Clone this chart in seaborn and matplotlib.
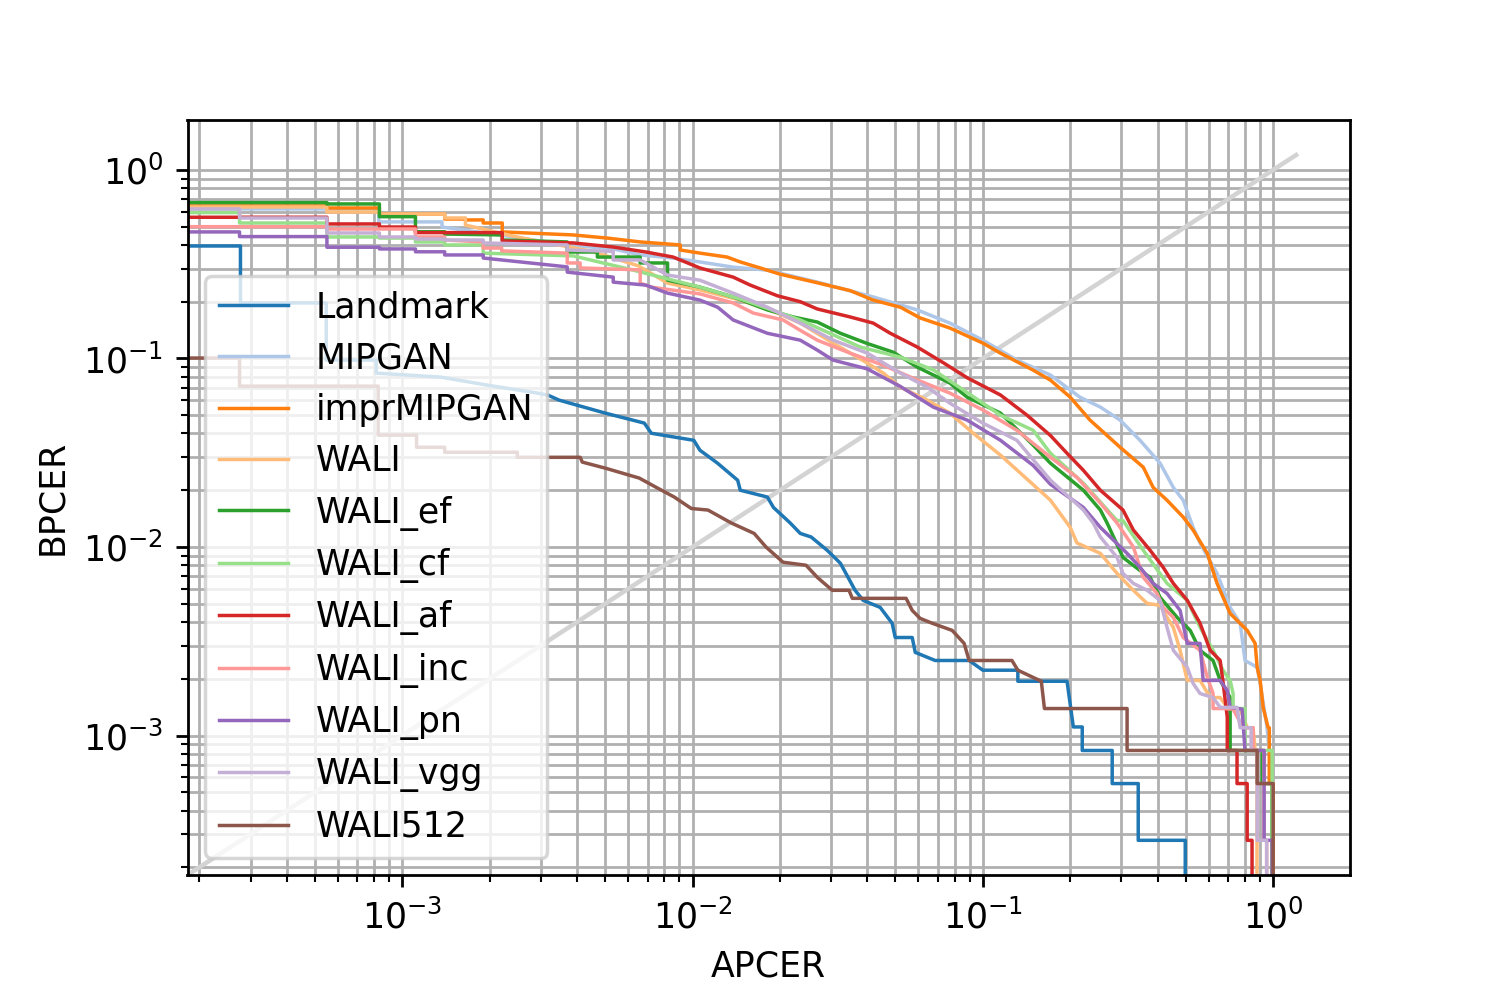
import matplotlib
matplotlib.use("Agg")
import matplotlib.pyplot as plt
import seaborn as sns

# ---- data: (APCER, BPCER) vertices ----
names = ["Landmark", "MIPGAN", "imprMIPGAN", "WALI", "WALI_ef", "WALI_cf",
         "WALI_af", "WALI_inc", "WALI_pn", "WALI_vgg", "WALI512"]
colors = ["#1f77b4", "#aec7e8", "#ff7f0e", "#ffbb78", "#2ca02c", "#98df8a",
          "#d62728", "#ff9896", "#9467bd", "#c5b0d5", "#8c564b"]

landmark = [(1e-4, 0.395), (2.77e-4, 0.395), (2.77e-4, 0.197), (5.47e-4, 0.197), (5.47e-4, 0.098),
            (8.13e-4, 0.098), (8.13e-4, 0.0836), (1.36e-3, 0.0796), (1.96e-3, 0.0722), (2.92e-3, 0.0655),
            (3.18e-3, 0.0638), (3.47e-3, 0.0601), (5.0e-3, 0.0513), (6.82e-3, 0.0454), (7.21e-3, 0.0401),
            (1.01e-2, 0.0368), (1.06e-2, 0.0326), (1.22e-2, 0.0278), (1.43e-2, 0.0226), (1.46e-2, 0.020),
            (1.81e-2, 0.0184), (1.90e-2, 0.0162), (2.17e-2, 0.0134), (2.35e-2, 0.0118), (2.56e-2, 0.0113),
            (2.91e-2, 0.0096), (3.23e-2, 0.0082), (3.63e-2, 0.00589), (3.87e-2, 0.00521), (4.43e-2, 0.00478),
            (4.87e-2, 0.00394), (4.99e-2, 0.00331), (5.71e-2, 0.00331), (5.85e-2, 0.00276), (6.85e-2, 0.0025),
            (8.97e-2, 0.0025), (0.10, 0.00222), (0.132, 0.00222), (0.132, 0.00194), (0.195, 0.00194),
            (0.205, 0.00111), (0.22, 0.00111), (0.22, 0.000833), (0.279, 0.000833), (0.279, 0.000556),
            (0.343, 0.000556), (0.343, 0.000278), (0.498, 0.000278), (0.498, 1e-5)]

mipgan = [(1e-4, 0.621), (8.3e-4, 0.621), (8.3e-4, 0.53), (1.37e-3, 0.53), (1.37e-3, 0.498), (2.2e-3, 0.45),
          (3.7e-3, 0.40), (5.33e-3, 0.381), (6.6e-3, 0.354), (8.57e-3, 0.341), (0.0106, 0.325), (0.0138, 0.305),
          (0.0181, 0.294), (0.0269, 0.254), (0.0419, 0.212), (0.0594, 0.181), (0.077, 0.154), (0.100, 0.125),
          (0.131, 0.098), (0.171, 0.0816), (0.216, 0.0623), (0.254, 0.0552), (0.297, 0.0471), (0.348, 0.0368),
          (0.408, 0.0278), (0.453, 0.0207), (0.49, 0.0177), (0.53, 0.0127), (0.56, 0.0105), (0.641, 0.00724),
          (0.711, 0.00478), (0.77, 0.00394), (0.80, 0.0025), (0.881, 0.0023), (0.902, 0.00189), (0.953, 0.0011),
          (0.992, 0.000556), (0.992, 0.000278), (1.0, 0.000278), (1.0, 1e-5)]

impr_mipgan = [(1e-4, 0.644), (5.5e-4, 0.644), (5.5e-4, 0.628), (8.34e-4, 0.628), (8.34e-4, 0.584),
               (1.40e-3, 0.584), (1.40e-3, 0.549), (1.65e-3, 0.549), (1.65e-3, 0.543), (1.90e-3, 0.543),
               (1.90e-3, 0.523), (2.21e-3, 0.523), (2.21e-3, 0.469), (3.88e-3, 0.452), (5.08e-3, 0.435),
               (6.6e-3, 0.415), (9.07e-3, 0.40), (9.07e-3, 0.376), (0.0106, 0.362), (0.01315, 0.345),
               (0.0146, 0.325), (0.0171, 0.302), (0.020, 0.280), (0.0269, 0.252), (0.0349, 0.229),
               (0.0419, 0.204), (0.052, 0.187), (0.0608, 0.164), (0.077, 0.145), (0.100, 0.1206),
               (0.115, 0.1067), (0.149, 0.0867), (0.171, 0.0767), (0.20, 0.0623), (0.234, 0.0471),
               (0.297, 0.0338), (0.357, 0.0265), (0.386, 0.0207), (0.431, 0.0177), (0.49, 0.0144),
               (0.53, 0.0123), (0.593, 0.00925), (0.641, 0.00641), (0.711, 0.00444), (0.814, 0.00361),
               (0.867, 0.00308), (0.881, 0.0023), (0.902, 0.00196), (0.924, 0.00141), (0.961, 0.0011),
               (0.97, 0.0011), (0.97, 0.000556), (1.0, 0.000556), (1.0, 1e-5)]

wali = [(1e-4, 0.636), (5.5e-4, 0.636), (5.5e-4, 0.598), (8.34e-4, 0.598), (8.34e-4, 0.584), (1.40e-3, 0.584),
        (1.40e-3, 0.556), (1.65e-3, 0.556), (1.65e-3, 0.51), (2.5e-3, 0.44), (4.5e-3, 0.37), (6.5e-3, 0.31),
        (8.2e-3, 0.251), (0.0106, 0.231), (0.0146, 0.204), (0.0196, 0.174), (0.0235, 0.154), (0.0305, 0.1206),
        (0.040, 0.0945), (0.0454, 0.0836), (0.052, 0.0704), (0.0643, 0.0601), (0.077, 0.0513), (0.0927, 0.0401),
        (0.115, 0.0307), (0.171, 0.0177), (0.20, 0.0127), (0.211, 0.0105), (0.254, 0.00925), (0.29, 0.00724),
        (0.33, 0.00589), (0.368, 0.00502), (0.408, 0.0049), (0.431, 0.00423), (0.453, 0.00375),
        (0.478, 0.00283), (0.506, 0.00196), (0.56, 0.00196), (0.607, 0.00159), (0.657, 0.00159),
        (0.695, 0.00141), (0.77, 0.00138), (0.814, 0.0011), (0.853, 0.0011), (0.867, 0.000833),
        (0.88, 0.000833), (0.88, 1e-5)]

wali_ef = [(1e-4, 0.671), (5.5e-4, 0.671), (5.5e-4, 0.66), (8.34e-4, 0.66), (8.34e-4, 0.565), (1.11e-3, 0.565),
           (1.11e-3, 0.47), (1.40e-3, 0.47), (1.40e-3, 0.457), (2.21e-3, 0.452), (2.21e-3, 0.425), (3.7e-3, 0.415),
           (3.7e-3, 0.367), (4.7e-3, 0.367), (4.7e-3, 0.345), (6.6e-3, 0.345), (6.6e-3, 0.321), (8.2e-3, 0.321),
           (8.2e-3, 0.26), (0.0106, 0.239), (0.0138, 0.212), (0.0181, 0.181), (0.0222, 0.166), (0.0269, 0.156),
           (0.0323, 0.136), (0.040, 0.12), (0.0491, 0.108), (0.0594, 0.090), (0.077, 0.074), (0.0883, 0.0623),
           (0.115, 0.0513), (0.149, 0.0347), (0.171, 0.0278), (0.222, 0.020), (0.254, 0.0157), (0.268, 0.0134),
           (0.304, 0.0088), (0.348, 0.0075), (0.377, 0.0069), (0.408, 0.0054), (0.467, 0.00423),
           (0.518, 0.00361), (0.56, 0.00283), (0.621, 0.0025), (0.657, 0.00196), (0.711, 0.00159),
           (0.711, 0.000833), (0.917, 0.000833), (0.917, 0.000556), (0.99, 0.000556), (0.99, 1e-5)]

wali_cf = [(1e-4, 0.594), (2.75e-4, 0.594), (2.75e-4, 0.523), (5.5e-4, 0.523), (5.5e-4, 0.441), (8.34e-4, 0.441),
           (8.34e-4, 0.435), (1.11e-3, 0.435), (1.11e-3, 0.415), (1.4e-3, 0.415), (1.4e-3, 0.40), (1.9e-3, 0.40),
           (1.9e-3, 0.362), (3.88e-3, 0.35), (6.25e-3, 0.294), (0.0106, 0.239), (0.015, 0.204), (0.0235, 0.16),
           (0.0378, 0.115), (0.052, 0.1016), (0.0675, 0.087), (0.0883, 0.066), (0.115, 0.05), (0.149, 0.0416),
           (0.171, 0.0314), (0.222, 0.0218), (0.29, 0.0138), (0.304, 0.0138), (0.357, 0.0096), (0.431, 0.00641),
           (0.506, 0.00521), (0.56, 0.00375), (0.621, 0.00283), (0.673, 0.00221), (0.711, 0.00196),
           (0.728, 0.00167), (0.728, 0.00139), (0.80, 0.00139), (0.80, 0.000833), (0.992, 0.000833),
           (0.992, 1e-5)]

wali_af = [(1e-4, 0.561), (5.5e-4, 0.561), (5.5e-4, 0.517), (8.34e-4, 0.517), (8.34e-4, 0.498), (1.11e-3, 0.498),
           (1.11e-3, 0.465), (2.21e-3, 0.465), (2.21e-3, 0.42), (3.88e-3, 0.41), (5.33e-3, 0.39), (6.9e-3, 0.367),
           (8.57e-3, 0.345), (0.0106, 0.302), (0.0138, 0.270), (0.0158, 0.245), (0.0196, 0.215), (0.0235, 0.200),
           (0.0269, 0.183), (0.0349, 0.166), (0.0419, 0.154), (0.048, 0.136), (0.0594, 0.115), (0.073, 0.095),
           (0.0883, 0.079), (0.115, 0.064), (0.142, 0.05), (0.171, 0.039), (0.195, 0.0314), (0.222, 0.0255),
           (0.254, 0.020), (0.304, 0.0157), (0.33, 0.0123), (0.377, 0.0096), (0.418, 0.0078), (0.453, 0.00641),
           (0.506, 0.00521), (0.56, 0.00394), (0.607, 0.00283), (0.657, 0.0025), (0.673, 0.00189),
           (0.695, 0.00125), (0.695, 0.000833), (0.751, 0.000833), (0.751, 0.000556), (0.814, 0.000556),
           (0.814, 0.000278), (0.846, 0.000278), (0.846, 1e-5)]

wali_inc = [(1e-4, 0.50), (5.5e-4, 0.50), (5.5e-4, 0.486), (1.11e-3, 0.486), (1.11e-3, 0.441), (1.4e-3, 0.441),
            (1.4e-3, 0.425), (1.9e-3, 0.415), (1.9e-3, 0.385), (2.2e-3, 0.385), (2.2e-3, 0.372), (3.7e-3, 0.362),
            (3.7e-3, 0.321), (4.1e-3, 0.321), (4.1e-3, 0.302), (6.6e-3, 0.295), (6.6e-3, 0.251), (7.2e-3, 0.239),
            (0.0106, 0.22), (0.0138, 0.197), (0.0162, 0.174), (0.0205, 0.16), (0.0235, 0.141), (0.0269, 0.125),
            (0.0349, 0.1067), (0.0454, 0.092), (0.0594, 0.0769), (0.077, 0.0655), (0.100, 0.0533),
            (0.131, 0.0416), (0.171, 0.0299), (0.211, 0.0234), (0.254, 0.0171), (0.29, 0.0134), (0.33, 0.0100),
            (0.357, 0.0069), (0.398, 0.00567), (0.418, 0.00478), (0.453, 0.00423), (0.49, 0.00331),
            (0.56, 0.00283), (0.593, 0.00204), (0.621, 0.00167), (0.621, 0.00139), (0.673, 0.00139),
            (0.728, 0.00138), (0.788, 0.0011), (0.853, 0.0011), (0.853, 0.000833), (0.93, 0.000833),
            (0.93, 0.000278), (0.95, 0.000278), (0.95, 1e-5)]

wali_pn = [(1e-4, 0.469), (2.75e-4, 0.469), (2.75e-4, 0.443), (5.5e-4, 0.443), (5.5e-4, 0.389), (8.34e-4, 0.389),
           (8.34e-4, 0.381), (1.11e-3, 0.381), (1.11e-3, 0.368), (1.4e-3, 0.368), (1.4e-3, 0.354), (1.9e-3, 0.354),
           (1.9e-3, 0.341), (3.7e-3, 0.306), (3.7e-3, 0.287), (5.33e-3, 0.27), (5.33e-3, 0.254), (6.9e-3, 0.245),
           (8.2e-3, 0.222), (0.0106, 0.204), (0.0122, 0.187), (0.0138, 0.16), (0.0181, 0.136), (0.0235, 0.125),
           (0.0269, 0.1107), (0.0305, 0.098), (0.040, 0.088), (0.052, 0.071), (0.0675, 0.0552),
           (0.0883, 0.0471), (0.115, 0.0368), (0.149, 0.0271), (0.171, 0.0215), (0.222, 0.0162),
           (0.254, 0.0127), (0.314, 0.00925), (0.348, 0.0078), (0.386, 0.00641), (0.431, 0.00567),
           (0.478, 0.00461), (0.506, 0.00308), (0.56, 0.00308), (0.574, 0.00196), (0.657, 0.00196),
           (0.695, 0.00173), (0.711, 0.00141), (0.782, 0.00138), (0.80, 0.000833), (0.931, 0.000833),
           (0.931, 0.000278), (0.992, 0.000278), (0.992, 1e-5)]

wali_vgg = [(1e-4, 0.621), (2.75e-4, 0.621), (2.75e-4, 0.556), (5.5e-4, 0.556), (5.5e-4, 0.463), (8.34e-4, 0.463),
            (8.34e-4, 0.441), (1.11e-3, 0.441), (1.11e-3, 0.43), (1.4e-3, 0.43), (1.4e-3, 0.425), (1.9e-3, 0.425),
            (1.9e-3, 0.41), (3.7e-3, 0.40), (3.7e-3, 0.376), (5.33e-3, 0.37), (5.33e-3, 0.333), (6.6e-3, 0.333),
            (8.2e-3, 0.277), (0.0106, 0.26), (0.0138, 0.222), (0.0181, 0.187), (0.0235, 0.154), (0.0305, 0.125),
            (0.040, 0.1067), (0.052, 0.0836), (0.0643, 0.0704), (0.077, 0.0579), (0.100, 0.0454),
            (0.131, 0.0368), (0.171, 0.0226), (0.222, 0.0157), (0.24, 0.0134), (0.254, 0.0113), (0.29, 0.0088),
            (0.304, 0.00724), (0.33, 0.00641), (0.368, 0.00589), (0.408, 0.00521), (0.431, 0.00375),
            (0.453, 0.00283), (0.506, 0.0023), (0.53, 0.00189), (0.56, 0.00167), (0.621, 0.00159),
            (0.657, 0.00141), (0.751, 0.00141), (0.77, 0.0011), (0.84, 0.0011), (0.84, 0.000833),
            (0.881, 0.000833), (0.881, 0.000278), (0.95, 0.000278), (0.95, 1e-5)]

wali512 = [(1e-4, 0.1005), (2.75e-4, 0.1005), (2.75e-4, 0.0713), (8.26e-4, 0.0713), (8.26e-4, 0.0392),
           (1.12e-3, 0.0392), (1.12e-3, 0.0338), (1.40e-3, 0.0338), (1.40e-3, 0.0318), (2.49e-3, 0.0318),
           (2.49e-3, 0.0299), (4.1e-3, 0.0299), (4.17e-3, 0.0282), (5.0e-3, 0.0262), (6.55e-3, 0.0232),
           (7.5e-3, 0.0207), (8.65e-3, 0.0184), (9.9e-3, 0.016), (0.0113, 0.0157), (0.0136, 0.0134),
           (0.0163, 0.0118), (0.0179, 0.0100), (0.0205, 0.0083), (0.0246, 0.0080), (0.0269, 0.0069),
           (0.0303, 0.00589), (0.0346, 0.00589), (0.0355, 0.00534), (0.0544, 0.00534), (0.0571, 0.00461),
           (0.0608, 0.00418), (0.0669, 0.00394), (0.0784, 0.00361), (0.0862, 0.00308), (0.0897, 0.0025),
           (0.126, 0.0025), (0.132, 0.00222), (0.159, 0.00194), (0.163, 0.00139), (0.314, 0.00139),
           (0.314, 0.000833), (0.881, 0.000833), (0.881, 0.000556), (1.0, 0.000556), (1.0, 1e-5)]

series = [landmark, mipgan, impr_mipgan, wali, wali_ef, wali_cf, wali_af, wali_inc, wali_pn, wali_vgg, wali512]

diag = [1e-4, 1.2]          # equal-error diagonal APCER = BPCER
axis_lim = (1.82e-4, 1.84)

# ---- figure ----
fig, ax = plt.subplots(figsize=(6, 4), dpi=250)
fig.subplots_adjust(left=0.125, right=0.9, bottom=0.125, top=0.88)
ax.set_xscale("log")
ax.set_yscale("log")

sns.lineplot(x=diag, y=diag, color="lightgray", linewidth=1.3, ax=ax,
             sort=False, estimator=None, legend=False)

for name, col, pts in zip(names, colors, series):
    xs = [p[0] for p in pts]
    ys = [p[1] for p in pts]
    sns.lineplot(x=xs, y=ys, color=col, linewidth=1.0, label=name, ax=ax,
                 sort=False, estimator=None)

ax.set_xlim(*axis_lim)
ax.set_ylim(*axis_lim)
ax.grid(True, which="both", color="#b0b0b0", linewidth=0.8)
ax.set_xlabel("APCER")
ax.set_ylabel("BPCER")
ax.legend(loc="lower left")

fig.savefig("out.png", dpi=250)
